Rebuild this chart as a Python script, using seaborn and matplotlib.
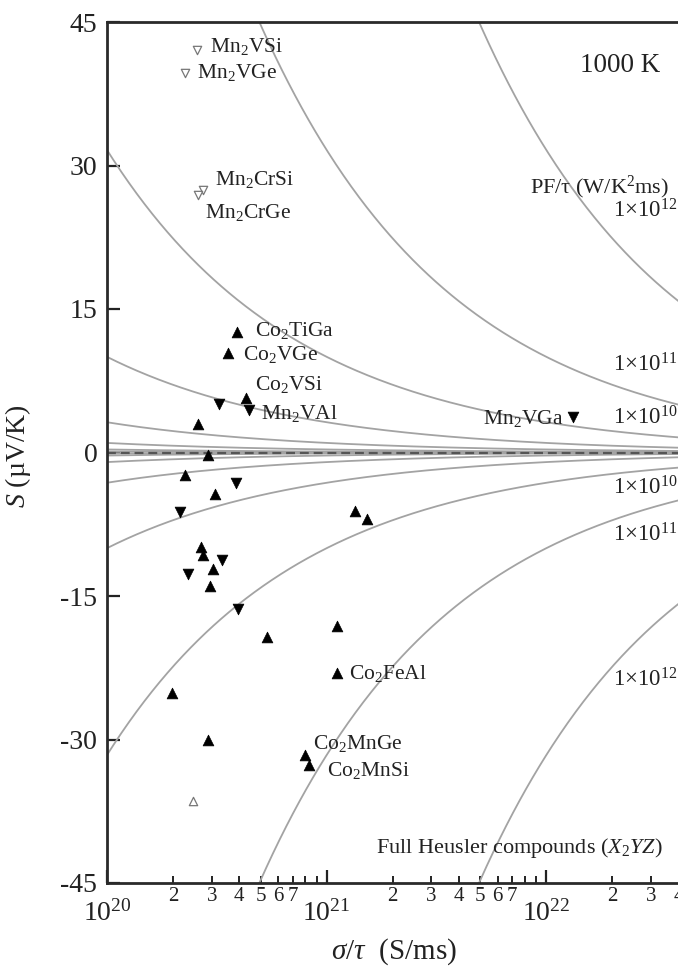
import numpy as np
import pandas as pd
import matplotlib
matplotlib.use("Agg")
import matplotlib.pyplot as plt
import seaborn as sns
from matplotlib.ticker import FixedLocator, FixedFormatter

# ---- data -------------------------------------------------------------
# filled triangles (up: one carrier type, down: the other), sigma/tau in S/ms, S in uV/K
up_sigma = [3.92e20, 3.54e20, 4.29e20, 2.59e20, 2.89e20, 2.26e20, 3.10e20,
            2.68e20, 2.74e20, 3.05e20, 2.94e20, 1.345e21, 1.52e21, 1.117e21,
            5.33e20, 1.98e20, 1.117e21, 2.89e20, 7.97e20, 8.33e20]
up_S = [12.6, 10.4, 5.7, 3.0, -0.3, -2.35, -4.3,
        -9.9, -10.7, -12.2, -14.0, -6.1, -6.9, -18.1,
        -19.25, -25.1, -23.1, -30.0, -31.6, -32.7]

down_sigma = [3.23e20, 4.42e20, 3.85e20, 2.15e20, 3.33e20, 2.34e20, 3.96e20, 1.326e22]
down_S = [5.1, 4.4, -3.2, -6.25, -11.2, -12.7, -16.4, 3.7]

# open symbols
open_down_sigma = [2.56e20, 2.26e20, 2.74e20, 2.60e20]
open_down_S = [42.1, 39.7, 27.4, 26.9]
open_up_sigma = [2.47e20]
open_up_S = [-36.4]

# iso power-factor levels PF/tau in W/(K^2 m s)
pf_levels = [1e6, 1e7, 1e8, 1e9, 1e10, 1e11, 1e12, 1e13, 1e14]

# compound labels: (text, sigma, S, horizontal alignment)
compound_labels = [
    ("Mn$_2$VSi", 2.94e20, 42.4, "left"),
    ("Mn$_2$VGe", 2.57e20, 39.7, "left"),
    ("Mn$_2$CrSi", 3.10e20, 28.5, "left"),
    ("Mn$_2$CrGe", 2.79e20, 25.1, "left"),
    ("Co$_2$TiGa", 4.72e20, 12.8, "left"),
    ("Co$_2$VGe", 4.16e20, 10.2, "left"),
    ("Co$_2$VSi", 4.72e20, 7.1, "left"),
    ("Mn$_2$VAl", 5.02e20, 4.1, "left"),
    ("Mn$_2$VGa", 1.19e22, 3.6, "right"),
    ("Co$_2$FeAl", 1.264e21, -23.05, "left"),
    ("Co$_2$MnGe", 8.66e20, -30.4, "left"),
    ("Co$_2$MnSi", 1.003e21, -33.2, "left"),
]

level_labels = [
    ("1×10$^{12}$", 2.01e22, 25.3),
    ("1×10$^{11}$", 2.01e22, 9.15),
    ("1×10$^{10}$", 2.01e22, 3.6),
    ("1×10$^{10}$", 2.01e22, -3.7),
    ("1×10$^{11}$", 2.01e22, -8.6),
    ("1×10$^{12}$", 2.01e22, -23.8),
]

major_ticks = [1e20, 1e21, 1e22, 1e23]
major_labels = ["$10^{20}$", "$10^{21}$", "$10^{22}$", ""]
minor_mult = [2, 3, 4, 5, 6, 7, 8, 9]
minor_labels = ["2", "3", "4", "5", "6", "7", "", ""]
y_ticks = [-45, -30, -15, 0, 15, 30, 45]

# ---- style ------------------------------------------------------------
sns.set_theme(style="ticks")
plt.rcParams["font.family"] = ["Liberation Serif", "DejaVu Serif"]
plt.rcParams["mathtext.fontset"] = "custom"
plt.rcParams["mathtext.rm"] = "Liberation Serif"
plt.rcParams["mathtext.it"] = "Liberation Serif:italic"
plt.rcParams["mathtext.bf"] = "Liberation Serif:bold"
plt.rcParams["axes.unicode_minus"] = False

ink = "#222222"
fig = plt.figure(figsize=(6.78, 9.77), dpi=100)
ax = fig.add_axes([107 / 678, 1 - 883 / 977, 659 / 678, 861 / 977])
ax.set_xscale("log")
ax.set_xlim(1e20, 1e23)
ax.set_ylim(-45, 45)

# ---- iso power-factor curves: S = sqrt(PF / sigma) ----------------------
sig = np.logspace(20, 23, 600)
rows = []
for pf in pf_levels:
    s = np.sqrt(pf * 1e12 / sig)
    for sign in (1, -1):
        rows.append(pd.DataFrame({"sigma": sig, "S": sign * s,
                                  "curve": f"{pf:.0e}{'+' if sign > 0 else '-'}"}))
curves = pd.concat(rows, ignore_index=True)
sns.lineplot(data=curves, x="sigma", y="S", units="curve", estimator=None,
             sort=False, color="#a3a3a3", linewidth=1.3, ax=ax, legend=False,
             zorder=1)

ax.axhline(0, color="#555555", lw=1.6, ls=(0, (4, 2.2)), zorder=2)

# ---- compounds ---------------------------------------------------------
sns.scatterplot(x=up_sigma, y=up_S, marker="^", s=60, color="black",
                edgecolor="black", linewidth=0.5, ax=ax, zorder=5)
sns.scatterplot(x=down_sigma, y=down_S, marker="v", s=60, color="black",
                edgecolor="black", linewidth=0.5, ax=ax, zorder=5)
sns.scatterplot(x=open_down_sigma, y=open_down_S, marker="v", s=36,
                facecolor="white", edgecolor="#777777", linewidth=0.9,
                ax=ax, zorder=5)
sns.scatterplot(x=open_up_sigma, y=open_up_S, marker="^", s=36,
                facecolor="white", edgecolor="#777777", linewidth=0.9,
                ax=ax, zorder=5)

for txt, xv, yv, ha in compound_labels:
    ax.text(xv, yv, txt, ha=ha, va="center", fontsize=15.5, color=ink,
            zorder=6)
for txt, xv, yv in level_labels:
    ax.text(xv, yv, txt, ha="left", va="center", fontsize=16.5, color=ink,
            clip_on=False)

ax.text(1.42e22, 40.5, "1000 K", ha="left", va="center", fontsize=19.5,
        color=ink)
ax.text(8.42e21, 27.75, "PF/τ (W/K$^2$ms)", ha="left", va="center",
        fontsize=16, color=ink)
ax.text(1.676e21, -41.3, "Full Heusler compounds ($X_2YZ$)", ha="left",
        va="center", fontsize=16, color=ink)

# ---- axes --------------------------------------------------------------
ax.xaxis.set_major_locator(FixedLocator(major_ticks))
ax.xaxis.set_major_formatter(FixedFormatter(major_labels))
minor_pos, minor_txt = [], []
for d in (20, 21, 22):
    for m, lab in zip(minor_mult, minor_labels):
        minor_pos.append(m * 10.0 ** d)
        minor_txt.append(lab)
ax.xaxis.set_minor_locator(FixedLocator(minor_pos))
ax.xaxis.set_minor_formatter(FixedFormatter(minor_txt))
ax.set_yticks(y_ticks)

ax.tick_params(axis="x", which="major", direction="in", length=9.5, width=1.6,
               pad=12, labelsize=20, color=ink, labelcolor=ink)
ax.tick_params(axis="x", which="minor", direction="in", length=5, width=1.4,
               pad=3, labelsize=15, color=ink, labelcolor=ink)
ax.tick_params(axis="y", which="major", direction="in", length=9.5, width=1.6,
               pad=7, labelsize=20, color=ink, labelcolor=ink)

for side in ("left", "bottom", "top"):
    ax.spines[side].set_linewidth(2.0)
    ax.spines[side].set_color("#2a2a2a")
ax.spines["right"].set_visible(False)

ax.set_xlabel(r"$\sigma/\tau$  (S/ms)", fontsize=21, color=ink)
ax.set_ylabel(r"$S$ (µV/K)", fontsize=20, color=ink)
ax.xaxis.set_label_coords((394 - 107) / 659, -(936 - 883) / 861)
ax.yaxis.set_label_coords(-(107 - 33) / 659, (883 - 456) / 861)

fig.savefig("out.png", dpi=100, facecolor="white")
